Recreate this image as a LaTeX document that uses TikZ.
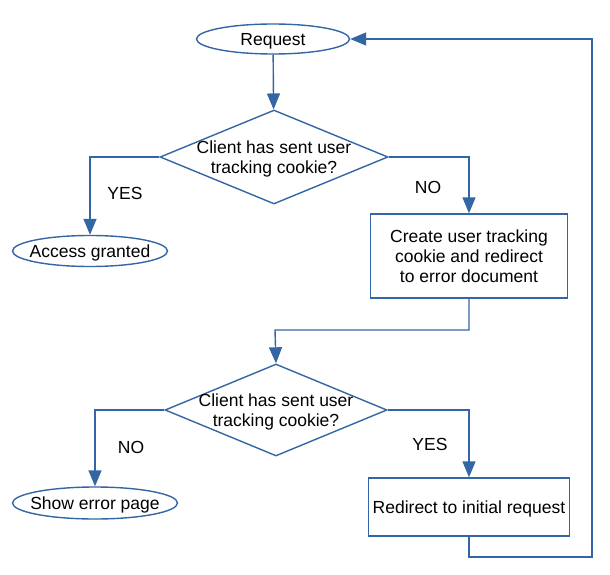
\documentclass[tikz,border=0pt]{standalone}
\usepackage{fontspec}
\setmainfont{Liberation Sans}
\usetikzlibrary{arrows.meta,shapes.geometric}
\definecolor{lineblue}{RGB}{52,101,164}
\begin{document}
\begin{tikzpicture}[x=1pt,y=-1pt,
  every node/.style={font=\fontsize{17.5}{20}\selectfont, text=black},
  conn/.style={draw=lineblue, line width=1.4pt},
  arr/.style={conn, -{Triangle[length=16pt,width=13pt]}},
  term/.style={ellipse, draw=lineblue, line width=1.4pt, inner sep=0pt, text height=13pt, text depth=0pt},
  proc/.style={rectangle, draw=lineblue, line width=1.4pt, inner sep=0pt, align=center},
  dec/.style={diamond, draw=lineblue, line width=1.4pt, inner sep=0pt, minimum width=228pt, minimum height=94pt},
  lbl/.style={inner sep=0pt}
]
\useasboundingbox (0,0) rectangle (610,575);

\node[term, minimum width=153pt, minimum height=30pt] (req) at (273,39) {\makebox[0pt]{Request}};
\node[dec] (d1) at (274,157) {\makebox[0pt]{\raisebox{-7pt}[0pt][0pt]{\begin{tabular}{@{}c@{}}Client has sent user\\tracking cookie?\end{tabular}}}};
\node[term, minimum width=155pt, minimum height=31pt] (acc) at (90,251) {\makebox[0pt]{Access granted}};
\node[proc, minimum width=197pt, minimum height=84pt] (box1) at (469,256) {Create user tracking\\cookie and redirect\\to error document};
\node[dec, minimum width=222pt, minimum height=92pt] (d2) at (276,410) {\makebox[0pt]{\raisebox{-7pt}[0pt][0pt]{\begin{tabular}{@{}c@{}}Client has sent user\\tracking cookie?\end{tabular}}}};
\node[term, minimum width=165pt, minimum height=32pt] (err) at (95,503) {\makebox[0pt]{Show error page}};
\node[proc, minimum width=201pt, minimum height=58pt, text height=13pt, text depth=0pt] (box2) at (469,507) {Redirect to initial request};

\node[lbl] (yes1) at (125,193) {YES};
\node[lbl] (no1) at (428,187) {NO};
\node[lbl] (no2) at (131,447) {NO};
\node[lbl] (yes2) at (430,444) {YES};

\coordinate (turn1) at (275,330);
\coordinate (loop) at (592,557);

\draw[arr] (req) -- (d1);
\draw[arr] (d1.west) -| (acc);
\draw[arr] (d1.east) -| (box1);
\draw[arr] (box1.south) |- (turn1) -- (d2.north);
\draw[arr] (d2.west) -| (err);
\draw[arr] (d2.east) -| (box2);
\draw[arr] (box2.south) |- (loop) |- (req.east);
\end{tikzpicture}
\end{document}
